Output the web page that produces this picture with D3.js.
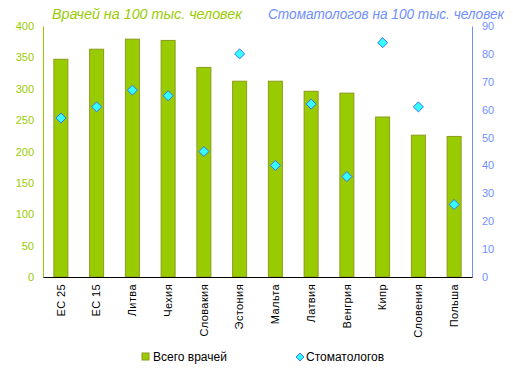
<!DOCTYPE html>
<html>
<head>
<meta charset="utf-8">
<script src="https://cdn.jsdelivr.net/npm/d3@7"></script>
<style>
    body { margin: 0; background: #fff; }
    svg { font-family: "Liberation Sans", Arial, sans-serif; }
</style>
</head>
<body>
<svg id="chart" width="513" height="376"></svg>
<script>
var categories = ["ЕС 25", "ЕС 15", "Литва", "Чехия", "Словакия", "Эстония", "Мальта", "Латвия", "Венгрия", "Кипр", "Словения", "Польша"];
var doctors = [347, 363, 379, 377, 334, 312, 312, 296, 293, 255, 226, 224];
var dentists = [57, 61, 67, 65, 45, 80, 40, 62, 36, 84, 61, 26];
var leftTicks = [0, 50, 100, 150, 200, 250, 300, 350, 400];
var rightTicks = [0, 10, 20, 30, 40, 50, 60, 70, 80, 90];

const green = "#99cc00";
const blue = "#6f8fff";
const plotLeft = 43, plotRight = 472, plotTop = 26, plotBottom = 277;

var svg = d3.select("#chart");

var xScale = d3.scaleBand()
    .domain(categories)
    .range([plotLeft, plotRight]);

var yLeft = d3.scaleLinear().domain([0, 400]).range([plotBottom, plotTop]);
var yRight = d3.scaleLinear().domain([0, 90]).range([plotBottom, plotTop]);

// bars
var barW = 14;
svg.append("g")
    .selectAll("rect")
    .data(doctors)
    .enter()
    .append("rect")
    .attr("x", (d, i) => xScale(categories[i]) + xScale.bandwidth() / 2 - barW / 2)
    .attr("y", d => yLeft(d))
    .attr("width", barW)
    .attr("height", d => plotBottom - yLeft(d))
    .attr("fill", green)
    .attr("stroke", "#8c9a1c")
    .attr("stroke-width", 1);

// left axis
var gLeft = svg.append("g")
    .attr("transform", "translate(" + plotLeft + ",0)")
    .call(d3.axisLeft(yLeft).tickValues(leftTicks).tickSize(0).tickPadding(9));
gLeft.select(".domain").attr("stroke", green);
gLeft.selectAll("text").attr("fill", green).attr("font-size", 11);

// right axis
var gRight = svg.append("g")
    .attr("transform", "translate(" + plotRight + ",0)")
    .call(d3.axisRight(yRight).tickValues(rightTicks).tickSize(0).tickPadding(10));
gRight.select(".domain").attr("stroke", blue);
gRight.selectAll("text").attr("fill", blue).attr("font-size", 11);

// x axis
var gX = svg.append("g")
    .attr("transform", "translate(0," + plotBottom + ")")
    .call(d3.axisBottom(xScale).tickSize(0).tickSizeOuter(0));
gX.select(".domain").attr("stroke", "#000");
gX.selectAll("text")
    .attr("font-size", 11)
    .attr("fill", "#000")
    .attr("letter-spacing", 0.4)
    .attr("transform", "rotate(-90)")
    .attr("text-anchor", "end")
    .attr("x", -7)
    .attr("y", 0)
    .attr("dy", "0.35em");

// diamonds
var diamond = d3.symbol().type(d3.symbolDiamond2).size(64);
svg.append("g")
    .selectAll("path")
    .data(dentists)
    .enter()
    .append("path")
    .attr("d", diamond)
    .attr("transform", (d, i) => "translate(" + (xScale(categories[i]) + xScale.bandwidth() / 2) + "," + yRight(d) + ")")
    .attr("fill", "#33ffff")
    .attr("stroke", "#3a6cff")
    .attr("stroke-width", 1);

// titles
svg.append("text")
    .attr("x", 52).attr("y", 19)
    .attr("font-size", 14).attr("font-style", "italic")
    .attr("textLength", 190).attr("lengthAdjust", "spacingAndGlyphs")
    .attr("fill", green)
    .text("Врачей на 100 тыс. человек");
svg.append("text")
    .attr("x", 268).attr("y", 19)
    .attr("font-size", 14).attr("font-style", "italic")
    .attr("textLength", 236).attr("lengthAdjust", "spacingAndGlyphs")
    .attr("fill", blue)
    .text("Стоматологов на 100 тыс. человек");

// legend
var lg = svg.append("g").attr("font-size", 12);
lg.append("rect")
    .attr("x", 142).attr("y", 353).attr("width", 7).attr("height", 7)
    .attr("fill", green).attr("stroke", "#8c9a1c");
lg.append("text").attr("x", 153).attr("y", 361).text("Всего врачей");
lg.append("path")
    .attr("d", d3.symbol().type(d3.symbolDiamond2).size(40))
    .attr("transform", "translate(300,357)")
    .attr("fill", "#33ffff").attr("stroke", "#3a6cff");
lg.append("text").attr("x", 306).attr("y", 361).text("Стоматологов");
</script>
</body>
</html>
